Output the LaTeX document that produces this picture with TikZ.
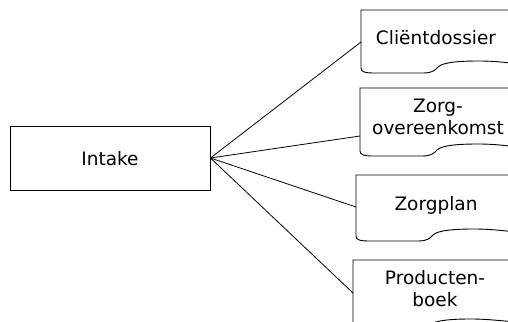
\documentclass[tikz,border=0pt]{standalone}
\usepackage{fontspec}
\setmainfont{DejaVu Sans}
\newcommand\docoutline[4]{% left, top, dip, right
  \draw[outl] (#1,#2) -- (#1,#3-5) .. controls (#1,#3-1) and (#1+4,#3) .. (#1+14,#3)
    -- (#1+62,#3) .. controls (#1+72,#3) and (#1+74,#3-3) .. (#1+77,#3-6)
    .. controls (#1+82,#3-11) and (#1+100,#3-12) .. (#1+118,#3-12)
    .. controls (#1+135,#3-12) and (#1+150,#3-10) .. (#4,#3-9) -- (#4,#2) -- cycle;}
\begin{document}
\begin{tikzpicture}[x=1pt,y=-1pt,
  lbl/.style={font=\fontsize{18.5}{22}\selectfont, align=center, inner sep=0pt, text=black},
  outl/.style={draw=black, line width=0.9pt},
  conn/.style={draw=black, line width=0.8pt}]
\useasboundingbox (0,0) rectangle (508,321);
% Intake box
\node[outl, lbl, minimum width=200pt, minimum height=64pt] (intake) at (110,158) {};
\node[lbl] (intaketxt) at (110,159) {Intake};
% document outlines
\docoutline{361}{10}{73}{516}
\docoutline{360}{88}{156}{516}
\docoutline{356}{175}{241}{516}
\docoutline{353}{260}{331}{516}
% document labels
\node[lbl] (d1) at (436,38) {Cliëntdossier};
\node[lbl] (d2) at (438,117) {Zorg-\\overeenkomst};
\node[lbl] (d3) at (436,205) {Zorgplan};
\node[lbl] (d4) at (435,289) {Producten-\\boek};
% connector ends on document left edges
\coordinate (c1) at (361,42);
\coordinate (c2) at (360,136);
\coordinate (c3) at (356,207);
\coordinate (c4) at (353,293);
\draw[conn] (intake.east) -- (c1);
\draw[conn] (intake.east) -- (c2);
\draw[conn] (intake.east) -- (c3);
\draw[conn] (intake.east) -- (c4);
\end{tikzpicture}
\end{document}
